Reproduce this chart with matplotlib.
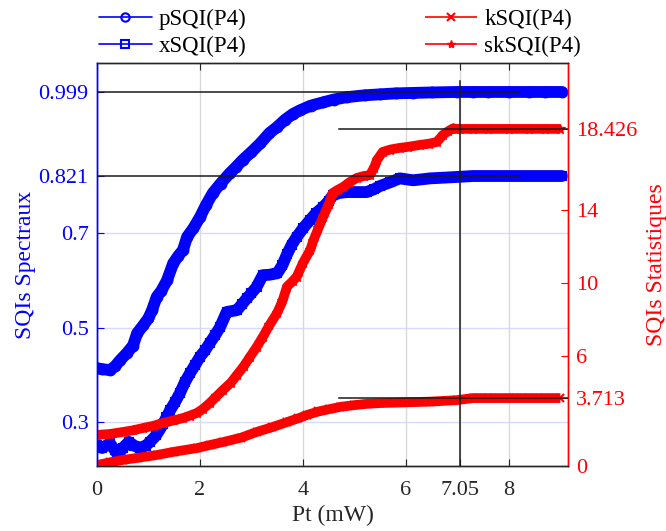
import matplotlib
matplotlib.use("Agg")
import matplotlib.pyplot as plt
from matplotlib.lines import Line2D

plt.rcParams['font.family'] = ['Liberation Serif', 'DejaVu Serif']
plt.rcParams['mathtext.fontset'] = 'stix'

# ---------------- data ----------------
p_x = [0, 0.1, 0.25, 0.35, 0.45, 0.58, 0.7, 0.78, 0.9, 1.0, 1.07, 1.16, 1.25, 1.36, 1.48,
       1.58, 1.67, 1.75, 1.87, 2.0, 2.12, 2.25, 2.4, 2.58, 2.7, 2.83, 3.0, 3.17, 3.35, 3.5,
       3.65, 3.8, 3.94, 4.15, 4.39, 4.6, 4.85, 5.2, 5.5, 5.8, 6.14, 6.5, 6.99, 7.3, 7.6,
       8.0, 8.4, 8.7, 9.03]
p_y = [0.414, 0.412, 0.41, 0.418, 0.431, 0.446, 0.462, 0.488, 0.505, 0.52, 0.537, 0.565,
       0.578, 0.60, 0.636, 0.652, 0.664, 0.692, 0.71, 0.734, 0.76, 0.785, 0.805, 0.827,
       0.84, 0.855, 0.872, 0.89, 0.912, 0.925, 0.94, 0.952, 0.96, 0.97, 0.977, 0.983,
       0.988, 0.992, 0.994, 0.996, 0.997, 0.998, 0.999, 0.999, 0.999, 0.999, 0.999,
       0.999, 0.999]

x_x = [0, 0.1, 0.25, 0.35, 0.41, 0.5, 0.62, 0.72, 0.83, 0.95, 1.03, 1.15, 1.28, 1.35,
       1.42, 1.52, 1.61, 1.71, 1.81, 1.9, 2.0, 2.1, 2.19, 2.3, 2.39, 2.52, 2.62, 2.72,
       2.82, 2.91, 3.0, 3.1, 3.22, 3.35, 3.5, 3.6, 3.69, 3.78, 3.88, 4.0, 4.14, 4.25,
       4.39, 4.5, 4.58, 4.7, 4.85, 5.05, 5.24, 5.38, 5.5, 5.7, 5.88, 6.14, 6.47, 6.99,
       7.3, 7.6, 8.0, 8.4, 8.7, 9.03]
x_y = [0.251, 0.245, 0.255, 0.24, 0.23, 0.245, 0.258, 0.25, 0.245, 0.25, 0.258, 0.272,
       0.295, 0.31, 0.325, 0.343, 0.361, 0.385, 0.404, 0.42, 0.438, 0.452, 0.467, 0.485,
       0.501, 0.533, 0.535, 0.537, 0.55, 0.562, 0.573, 0.586, 0.611, 0.612, 0.615, 0.632,
       0.655, 0.675, 0.692, 0.71, 0.728, 0.742, 0.755, 0.768, 0.78, 0.785, 0.787, 0.787,
       0.787, 0.793, 0.80, 0.808, 0.816, 0.812, 0.816, 0.819, 0.821, 0.821, 0.821, 0.821,
       0.821, 0.821]

sk_x = [0, 0.25, 0.5, 0.7, 0.9, 1.1, 1.28, 1.5, 1.67, 1.8, 1.94, 2.05, 2.19, 2.32, 2.45,
        2.6, 2.72, 2.85, 2.97, 3.1, 3.22, 3.35, 3.5, 3.6, 3.69, 3.8, 3.88, 4.0, 4.14,
        4.2, 4.3, 4.39, 4.5, 4.58, 4.68, 4.78, 4.9, 5.05, 5.18, 5.3, 5.38, 5.44, 5.55,
        5.7, 5.88, 6.05, 6.27, 6.45, 6.6, 6.72, 6.82, 6.91, 7.0, 7.05, 7.3, 7.6, 8.0,
        8.4, 8.7, 9.0]
sk_y = [1.7, 1.75, 1.86, 1.95, 2.08, 2.2, 2.35, 2.5, 2.62, 2.75, 2.9, 3.1, 3.44, 3.8,
        4.16, 4.55, 4.98, 5.45, 5.96, 6.5, 7.05, 7.7, 8.37, 9.0, 9.8, 10.1, 10.35, 11.1,
        11.8, 12.3, 13.0, 13.6, 14.3, 14.93, 15.1, 15.25, 15.5, 15.75, 15.85, 15.9, 16.3,
        16.73, 17.17, 17.3, 17.39, 17.45, 17.55, 17.62, 17.71, 18.1, 18.3, 18.45, 18.426,
        18.426, 18.426, 18.426, 18.426, 18.426, 18.426, 18.426]

k_x = [0, 0.25, 0.5, 0.8, 1.16, 1.5, 1.94, 2.2, 2.45, 2.8, 3.1, 3.4, 3.69, 3.9, 4.08,
       4.3, 4.5, 4.72, 5.0, 5.25, 5.5, 6.0, 6.47, 6.99, 7.3, 7.6, 8.0, 8.4, 8.7, 9.0]
k_y = [0.05, 0.2, 0.33, 0.45, 0.6, 0.78, 0.98, 1.15, 1.31, 1.55, 1.86, 2.12, 2.4, 2.6,
       2.79, 2.98, 3.1, 3.23, 3.33, 3.4, 3.44, 3.48, 3.52, 3.6, 3.713, 3.713, 3.713,
       3.713, 3.713, 3.713]

x_ticks = [0, 2, 4, 6, 7.05, 8]
x_ticklabels = ['0', '2', '4', '6', '7.05', '8']
left_ticks = [0.3, 0.5, 0.7, 0.821, 0.999]
left_ticklabels = ['0.3', '0.5', '0.7', '0.821', '0.999']
right_ticks = [0, 3.713, 6, 10, 14, 18.426]
right_ticklabels = ['0', '3.713', '6', '10', '14', '18.426']

ref_x_cut = 7.05
ref_left = [0.999, 0.821]
ref_right = [18.426, 3.713]

BLUE = '#0000ff'
RED = '#ff0000'

fig = plt.figure(figsize=(6.66, 5.31), dpi=100)
ax = fig.add_axes([0.1456, 0.1224, 0.853 - 0.1456, 0.8814 - 0.1224])
ax2 = ax.twinx()

ax.set_xlim(0, 9.15)
ax.set_ylim(0.2069, 1.0604)
ax2.set_ylim(0, 22.03)

# grid
ax.set_xticks(x_ticks)
ax.set_xticklabels(x_ticklabels)
ax.set_yticks(left_ticks)
ax.set_yticklabels(left_ticklabels)
ax.grid(True, axis='x', color='#d9d9d9', lw=1)
for yv in left_ticks[:3]:
    ax.axhline(yv, color='#d9d9ff', lw=1, zorder=0.5)
ax.set_axisbelow(True)

# data
lp, = ax.plot(p_x, p_y, color=BLUE, lw=8.5, marker='o', ms=7, mfc='none', mew=1.5,
              solid_capstyle='round', label='pSQI(P4)')
lx, = ax.plot(x_x, x_y, color=BLUE, lw=8.5, marker='s', ms=6, mfc='none', mew=1.5,
              solid_capstyle='round', label='xSQI(P4)')
lk, = ax2.plot(k_x, k_y, color=RED, lw=7, marker='x', ms=6, mew=1.5,
               solid_capstyle='butt', label='kSQI(P4)')
lsk, = ax2.plot(sk_x, sk_y, color=RED, lw=7, marker='*', ms=7, mew=1,
                solid_capstyle='butt', label='skSQI(P4)')

# reference lines (on top)
for yv in ref_left:
    ax2.add_line(Line2D([0, 8.2], [yv, yv], color='#1a1a1a', lw=1.1,
                        transform=ax.transData, zorder=5))
for yv in ref_right:
    ax2.plot([4.7, 9.15], [yv, yv], color='#1a1a1a', lw=1.1, zorder=5)
ax2.plot([ref_x_cut, ref_x_cut], [0, 21.05], color='#1a1a1a', lw=1.1, zorder=5)

ax2.set_yticks(right_ticks)
ax2.set_yticklabels(right_ticklabels)

# spines & ticks
ax.spines['left'].set_color(BLUE)
ax2.spines['left'].set_color(BLUE)
ax2.spines['right'].set_color(RED)
ax.spines['right'].set_color(RED)
for a in (ax, ax2):
    a.spines['top'].set_color('#262626')
    a.spines['bottom'].set_color('#262626')
    for s in a.spines.values():
        s.set_linewidth(1.0)

ax.tick_params(axis='x', direction='in', top=True, bottom=True, length=5,
               colors='#262626', labelsize=16, pad=11)
ax.tick_params(axis='y', direction='in', left=True, right=False, length=5,
               colors=BLUE, labelsize=16, labelcolor=BLUE, pad=6)
ax2.tick_params(axis='y', direction='in', right=True, length=5, colors=RED,
                labelsize=16, labelcolor=RED, pad=6)
for lbl in ax.get_xticklabels():
    lbl.set_color('#262626')

ax.set_xlabel('Pt (mW)', fontsize=17, color='#262626', labelpad=3)
ax.set_ylabel('SQIs Spectraux', fontsize=17, color=BLUE, labelpad=2)
ax2.set_ylabel('SQIs Statistiques', fontsize=17, color=RED, labelpad=6)

# legends
leg1 = fig.legend(handles=[lp, lx], loc='upper left', bbox_to_anchor=(0.135, 1.0),
                  frameon=False, fontsize=16.5, handlelength=2.3, handletextpad=0.3,
                  labelspacing=0.25, borderaxespad=0)
leg2 = fig.legend(handles=[lk, lsk], loc='upper left', bbox_to_anchor=(0.624, 1.0),
                  frameon=False, fontsize=16.5, handlelength=2.3, handletextpad=0.3,
                  labelspacing=0.25, borderaxespad=0)
for leg in (leg1, leg2):
    for ln in leg.get_lines():
        ln.set_linewidth(1.2)
        ln.set_markersize(6)

fig.savefig('out.png', dpi=100)
